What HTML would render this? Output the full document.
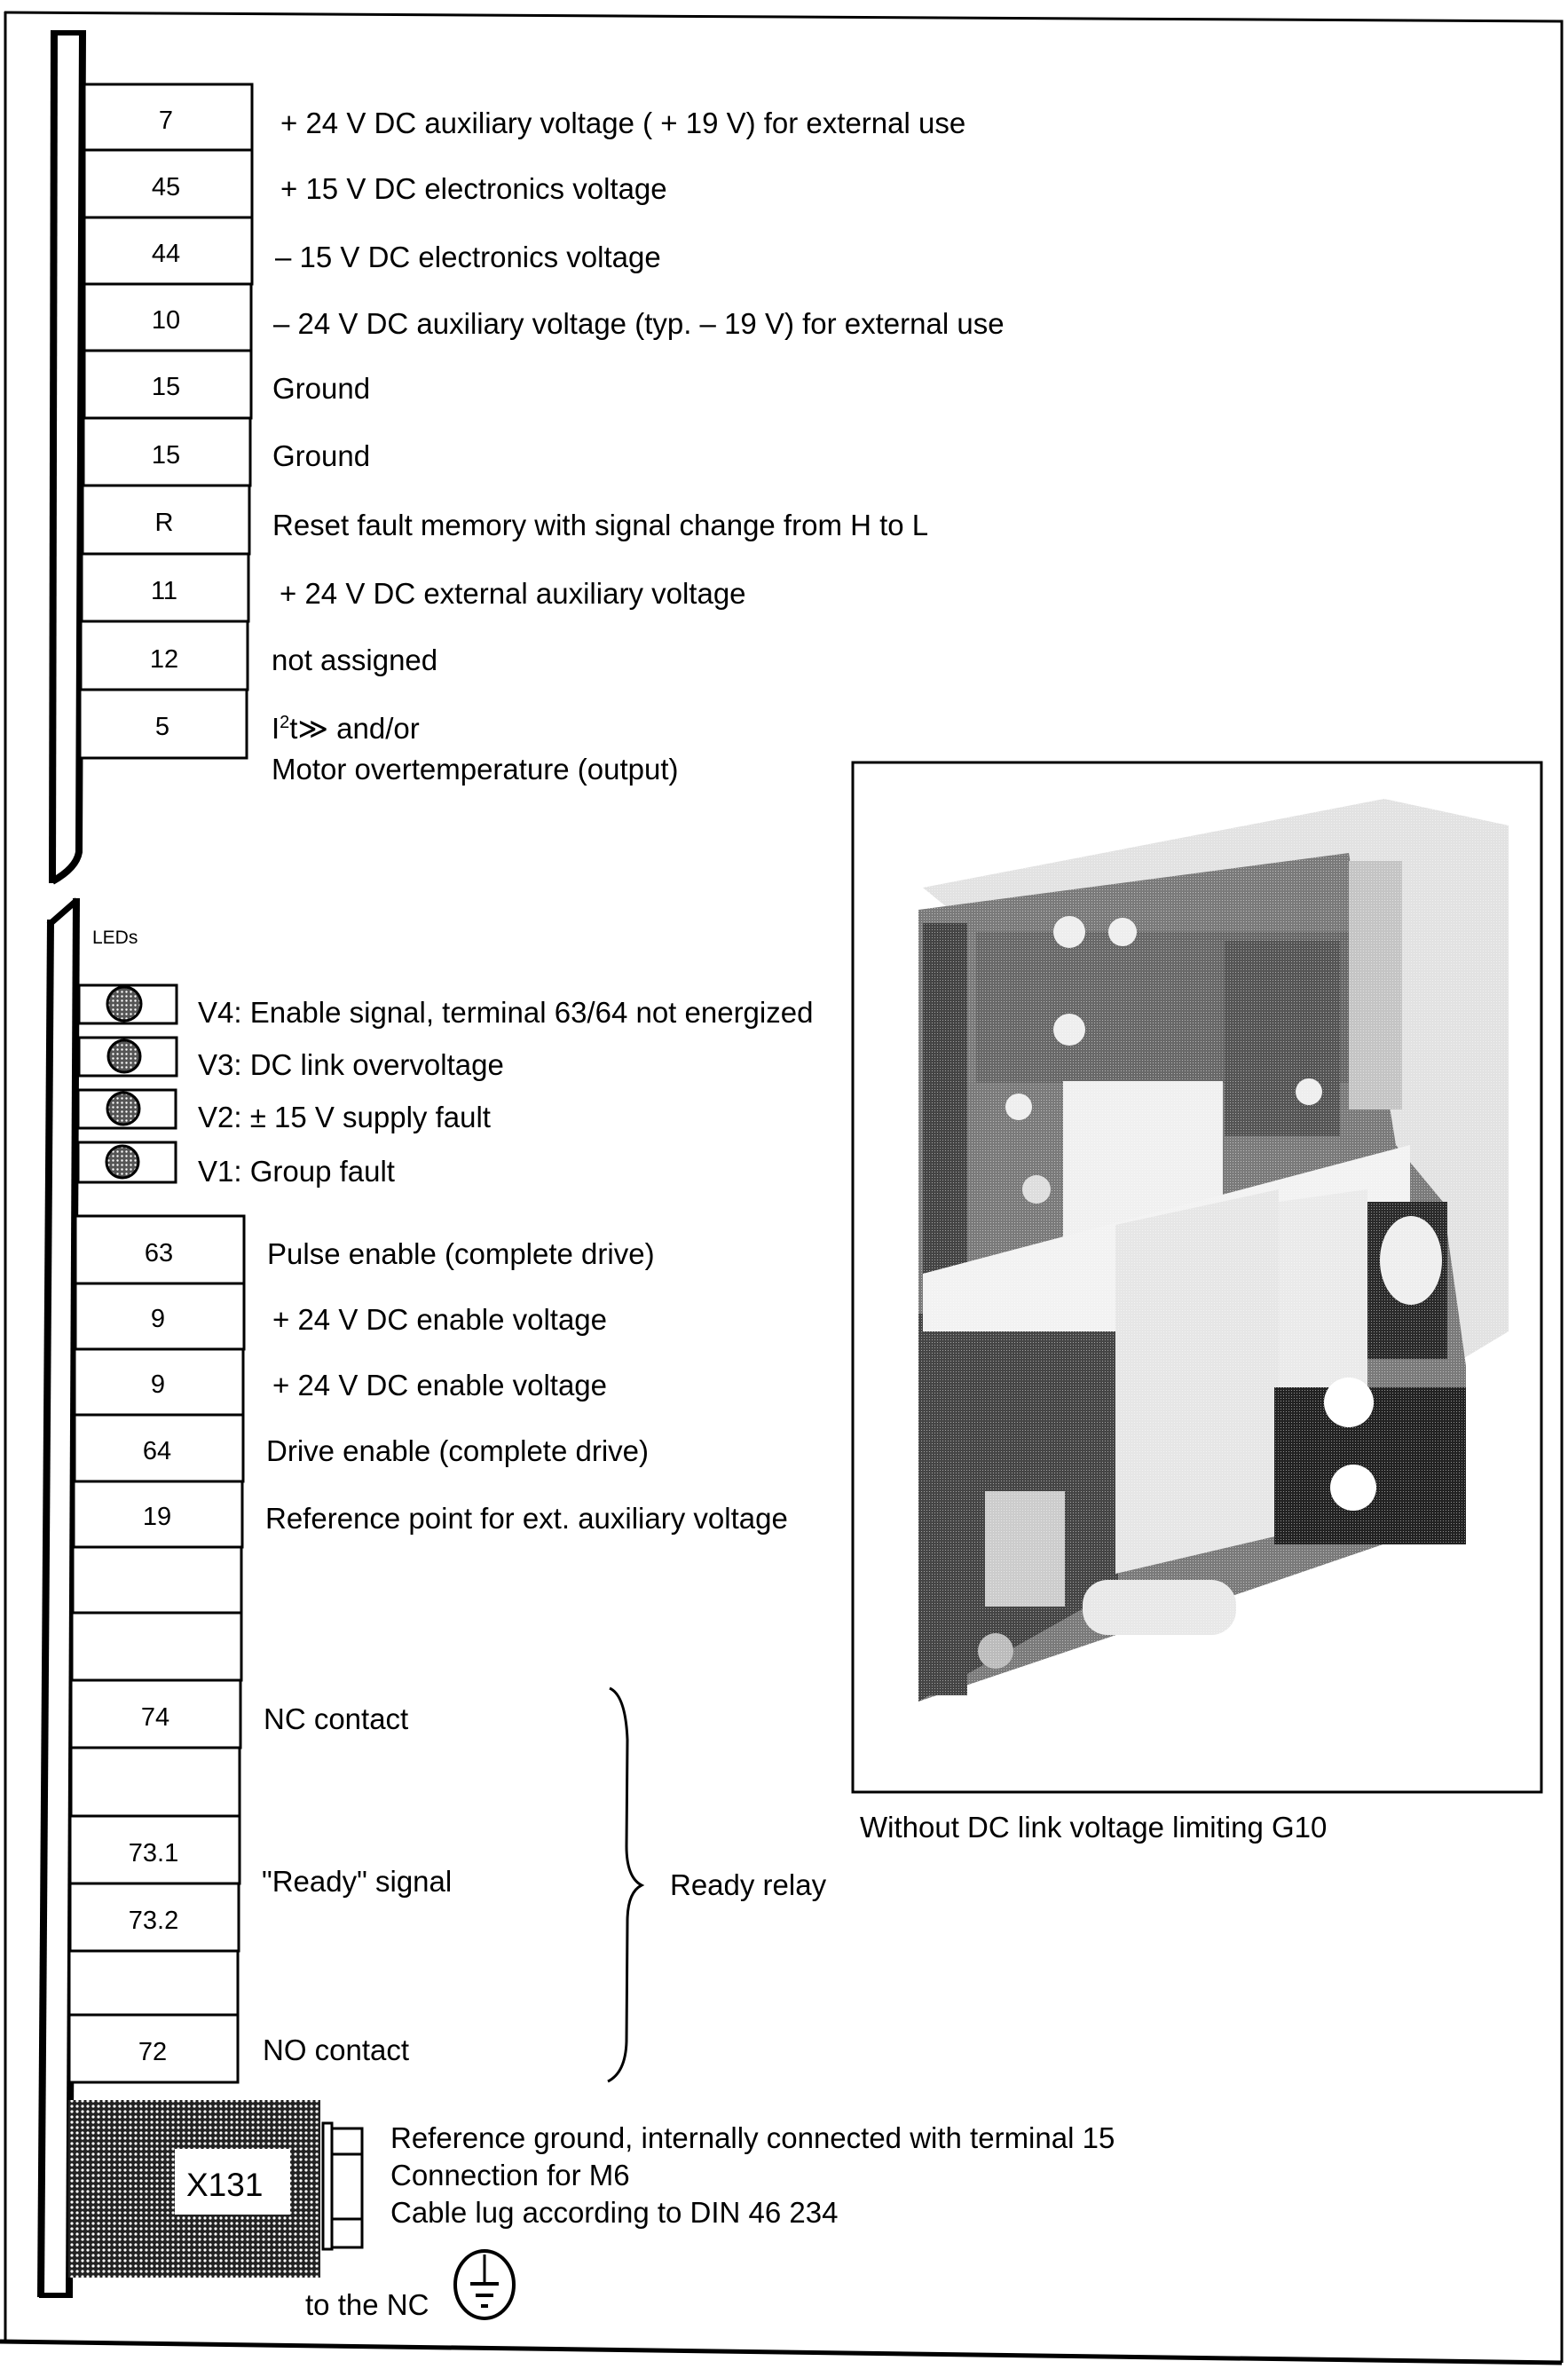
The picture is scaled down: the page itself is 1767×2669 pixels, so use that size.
<!DOCTYPE html>
<html><head><meta charset="utf-8"><style>
html,body{margin:0;padding:0;background:#fff;}
svg{display:block;}
text{font-family:"Liberation Sans",Arial,sans-serif;fill:#000;}
</style></head><body>
<svg width="1767" height="2669" viewBox="0 0 1767 2669" xmlns="http://www.w3.org/2000/svg">
<defs>
<pattern id="dots" width="6" height="6" patternUnits="userSpaceOnUse">
<rect width="6" height="6" fill="#222"/><circle cx="3" cy="3" r="1.6" fill="#fff"/>
</pattern>
<pattern id="led" width="5" height="5" patternUnits="userSpaceOnUse">
<rect width="5" height="5" fill="#555"/><circle cx="2.5" cy="2.5" r="1.2" fill="#fff"/>
</pattern>
<pattern id="ht" width="3" height="3" patternUnits="userSpaceOnUse">
<rect width="3" height="3" fill="none"/><rect width="1" height="1" fill="#fff" opacity="0.5"/>
</pattern>
<clipPath id="ph"><rect x="962" y="860" width="774" height="1158"/></clipPath>
</defs>
<polyline points="5,14 1760,24 1760,2662" fill="none" stroke="#000" stroke-width="3"/>
<line x1="6" y1="13" x2="6" y2="2640" stroke="#000" stroke-width="3"/>
<polyline points="0,2638 1760,2662" fill="none" stroke="#000" stroke-width="5"/>

<path d="M58,36 L95,36 L90,960 Q88,975 60,993 Z" fill="#fff" stroke="none"/>
<path d="M61,34 L59,995" stroke="#000" stroke-width="8"/>
<path d="M58,37 L96,37" stroke="#000" stroke-width="6"/>
<path d="M93,34 L89,960 Q86,978 59,993" fill="none" stroke="#000" stroke-width="8"/>

<g stroke="#000" stroke-width="3" fill="#fff">
<rect x="95" y="95" width="189" height="74"/>
<rect x="95" y="169" width="189" height="76"/>
<rect x="95" y="245" width="189" height="75"/>
<rect x="95" y="320" width="188" height="75"/>
<rect x="95" y="395" width="188" height="76"/>
<rect x="94" y="471" width="188" height="76"/>
<rect x="93" y="547" width="188" height="77"/>
<rect x="92" y="624" width="188" height="76"/>
<rect x="91" y="700" width="188" height="77"/>
<rect x="90" y="777" width="188" height="77"/>
</g>
<g font-size="29" text-anchor="middle">
<text x="187" y="145">7</text><text x="187" y="220">45</text><text x="187" y="295">44</text>
<text x="187" y="370">10</text><text x="187" y="445">15</text><text x="187" y="522">15</text>
<text x="185" y="598">R</text><text x="185" y="675">11</text><text x="185" y="752">12</text><text x="183" y="828">5</text>
</g>
<g font-size="33">
<text x="316" y="150">+ 24 V DC auxiliary voltage ( + 19 V) for external use</text>
<text x="316" y="224">+ 15 V DC electronics voltage</text>
<text x="310" y="301">– 15 V DC electronics voltage</text>
<text x="308" y="376">– 24 V DC auxiliary voltage (typ.  – 19 V) for external use</text>
<text x="307" y="449">Ground</text>
<text x="307" y="525">Ground</text>
<text x="307" y="603">Reset fault memory with signal change from H to L</text>
<text x="315" y="680">+ 24 V DC external auxiliary voltage</text>
<text x="306" y="755">not assigned</text>
<text x="306" y="832">I<tspan font-size="20" dy="-12">2</tspan><tspan dy="12">t≫  and/or</tspan></text>
<text x="306" y="878">Motor overtemperature (output)</text>
</g>

<path d="M56,1040 L86,1014 L80,2586 L45,2586 Z" fill="#fff"/>
<path d="M57,1036 L46,2588" stroke="#000" stroke-width="8"/>
<path d="M55,1042 L87,1014" stroke="#000" stroke-width="7"/>
<path d="M86,1012 L78,2588" stroke="#000" stroke-width="8"/>
<path d="M44,2586 L82,2586" stroke="#000" stroke-width="6"/>

<text x="104" y="1063" font-size="21">LEDs</text>
<g stroke="#000" stroke-width="3" fill="#fff">
<rect x="89" y="1110" width="110" height="43"/>
<rect x="89" y="1169" width="110" height="43"/>
<rect x="88" y="1228" width="110" height="43"/>
<rect x="88" y="1287" width="110" height="45"/>
</g>
<g stroke="#000" stroke-width="3" fill="url(#led)">
<circle cx="140" cy="1131" r="19"/><circle cx="140" cy="1190" r="18"/>
<circle cx="139" cy="1249" r="18"/><circle cx="138" cy="1309" r="18"/>
</g>
<g font-size="33">
<text x="223" y="1152">V4:  Enable signal, terminal 63/64 not energized</text>
<text x="223" y="1211">V3:  DC link overvoltage</text>
<text x="223" y="1270">V2:   ± 15 V supply fault</text>
<text x="223" y="1331">V1: Group fault</text>
</g>

<g stroke="#000" stroke-width="3" fill="#fff">
<rect x="85" y="1370" width="190" height="76"/>
<rect x="85" y="1446" width="190" height="74"/>
<rect x="84" y="1520" width="190" height="74"/>
<rect x="84" y="1594" width="190" height="75"/>
<rect x="83" y="1669" width="190" height="74"/>
<rect x="82" y="1743" width="190" height="74"/>
<rect x="81" y="1817" width="191" height="76"/>
<rect x="80" y="1893" width="191" height="76"/>
<rect x="80" y="1969" width="190" height="77"/>
<rect x="79" y="2046" width="191" height="76"/>
<rect x="79" y="2122" width="190" height="76"/>
<rect x="78" y="2198" width="190" height="72"/>
<rect x="78" y="2270" width="190" height="76"/>
</g>
<g font-size="29" text-anchor="middle">
<text x="179" y="1421">63</text><text x="178" y="1495">9</text><text x="178" y="1569">9</text>
<text x="177" y="1644">64</text><text x="177" y="1718">19</text>
<text x="175" y="1944">74</text><text x="173" y="2097">73.1</text><text x="173" y="2173">73.2</text>
<text x="172" y="2321">72</text>
</g>
<g font-size="33">
<text x="301" y="1424">Pulse enable (complete drive)</text>
<text x="307" y="1498">+ 24 V DC enable voltage</text>
<text x="307" y="1572">+ 24 V DC enable voltage</text>
<text x="300" y="1646">Drive enable (complete drive)</text>
<text x="299" y="1722">Reference point for ext. auxiliary voltage</text>
<text x="297" y="1948">NC contact</text>
<text x="295" y="2131">"Ready" signal</text>
<text x="296" y="2321">NO contact</text>
<text x="755" y="2135">Ready relay</text>
</g>
<path d="M687,1902 Q705,1910 707,1960 L706,2080 Q706,2115 723,2124 Q707,2132 707,2165 L706,2300 Q705,2335 685,2345" fill="none" stroke="#000" stroke-width="3"/>

<rect x="77" y="2366" width="284" height="200" fill="url(#dots)"/>
<rect x="197" y="2421" width="130" height="74" fill="#fff"/>
<text x="210" y="2474" font-size="37">X131</text>
<g stroke="#000" stroke-width="3" fill="#fff">
<rect x="364" y="2392" width="10" height="142"/>
<rect x="374" y="2398" width="34" height="29"/>
<rect x="374" y="2427" width="34" height="73"/>
<rect x="374" y="2500" width="34" height="32"/>
</g>
<g font-size="33">
<text x="440" y="2420">Reference ground, internally connected with terminal 15</text>
<text x="440" y="2462">Connection for M6</text>
<text x="440" y="2504">Cable lug according to DIN 46 234</text>
<text x="344" y="2608">to the NC</text>
</g>
<ellipse cx="546" cy="2574" rx="33" ry="38" fill="none" stroke="#000" stroke-width="4"/>
<line x1="546" y1="2540" x2="546" y2="2572" stroke="#000" stroke-width="3"/>
<line x1="530" y1="2573" x2="562" y2="2573" stroke="#000" stroke-width="4"/>
<line x1="536" y1="2586" x2="556" y2="2586" stroke="#000" stroke-width="4"/>
<line x1="542" y1="2598" x2="550" y2="2598" stroke="#000" stroke-width="4"/>

<rect x="961" y="859" width="776" height="1160" fill="#fff" stroke="#000" stroke-width="3"/>
<g clip-path="url(#ph)">
<polygon points="1040,1000 1560,900 1700,930 1700,1500 1600,1560 1480,1360" fill="#e2e2e2"/>
<polygon points="1035,1025 1520,961 1573,1290 1626,1354 1652,1539 1652,1708 1415,1789 1035,1917" fill="#7a7a7a"/>
<rect x="1040" y="1040" width="50" height="870" fill="#444"/>
<polygon points="1035,1480 1260,1480 1260,1790 1035,1917" fill="#454545"/>
<rect x="1100" y="1050" width="420" height="170" fill="#686868"/>
<rect x="1380" y="1060" width="130" height="220" fill="#555"/>
<rect x="1520" y="970" width="60" height="280" fill="#c4c4c4"/>
<circle cx="1205" cy="1050" r="18" fill="#eee"/><circle cx="1265" cy="1050" r="16" fill="#eee"/>
<circle cx="1205" cy="1160" r="18" fill="#eee"/><circle cx="1148" cy="1247" r="15" fill="#eee"/>
<circle cx="1168" cy="1340" r="16" fill="#ddd"/><circle cx="1475" cy="1230" r="15" fill="#eee"/>
<rect x="1198" y="1218" width="180" height="185" fill="#f0f0f0"/>
<polygon points="1040,1435 1589,1290 1589,1354 1257,1500 1040,1500" fill="#f2f2f2"/>
<polygon points="1257,1380 1441,1340 1441,1730 1257,1773" fill="#e6e6e6"/>
<polygon points="1441,1354 1541,1340 1541,1563 1441,1563" fill="#eaeaea"/>
<rect x="1541" y="1354" width="90" height="177" fill="#2a2a2a"/>
<ellipse cx="1590" cy="1420" rx="35" ry="50" fill="#eee"/>
<rect x="1436" y="1563" width="216" height="177" fill="#222"/>
<circle cx="1520" cy="1580" r="28" fill="#fff"/>
<circle cx="1525" cy="1676" r="26" fill="#fff"/>
<rect x="1220" y="1780" width="173" height="62" rx="28" fill="#e8e8e8"/>
<rect x="1110" y="1680" width="90" height="130" fill="#ccc"/>
<circle cx="1122" cy="1860" r="20" fill="#bbb"/>
<rect x="1035" y="900" width="700" height="1020" fill="url(#ht)"/>
</g>
<text x="969" y="2070" font-size="33">Without DC link voltage limiting G10</text>
</svg>
</body></html>
